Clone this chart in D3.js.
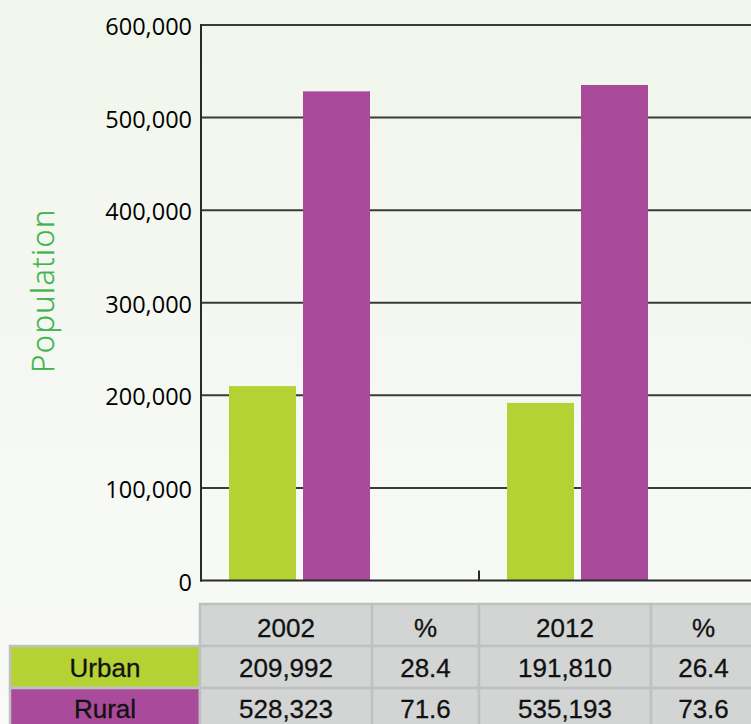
<!DOCTYPE html>
<html>
<head>
<meta charset="utf-8">
<script src="https://cdn.jsdelivr.net/npm/d3@7"></script>
<style>
html,body{margin:0;padding:0;background:#f6f8f3;}
svg{display:block;}
</style>
</head>
<body>
<svg id="chart" width="751" height="724"></svg>
<script>
const years = ["2002", "2012"];
const seriesNames = ["Urban", "Rural"];
const urbanValues = [209992, 191810];
const ruralValues = [528323, 535193];
const urbanPct = [28.4, 26.4];
const ruralPct = [71.6, 73.6];
const yTicks = [0, 100000, 200000, 300000, 400000, 500000, 600000];
const tableHeader = ["2002", "%", "2012", "%"];
const colors = {Urban: "#b4d234", Rural: "#a94a9a"};

const svg = d3.select("#chart");
const W = 751, H = 724;

const defs = svg.append("defs");
const grad = defs.append("linearGradient").attr("id","bg").attr("x1",0).attr("y1",0).attr("x2",0).attr("y2",1);
grad.append("stop").attr("offset","0%").attr("stop-color","#f1f6ec");
grad.append("stop").attr("offset","100%").attr("stop-color","#f9faf8");
svg.append("rect").attr("width",W).attr("height",H).attr("fill","url(#bg)");

const y = d3.scaleLinear().domain([0, 600000]).range([580.5, 25]);
const x0 = d3.scaleBand().domain(years).range([201, 757]).paddingInner(0).paddingOuter(0);
const x1 = d3.scaleBand().domain(seriesNames).range([28, 169]).paddingInner(0.0946);

const fmt = d3.format(",");

svg.append("g").selectAll("line").data(yTicks.filter(d=>d>0)).join("line")
  .attr("x1",201).attr("x2",W).attr("y1",d=>y(d)).attr("y2",d=>y(d))
  .attr("stroke","#3a3a3a").attr("stroke-width",2);

svg.append("g").selectAll("text").data(yTicks).join("text")
  .attr("x",192).attr("y",d=>y(d)+10)
  .attr("text-anchor","end")
  .attr("font-family","'Open Sans', sans-serif")
  .attr("font-size",23.5)
  .attr("fill","#000")
  .text(d=>fmt(d));

const data = years.map((yr,i)=>({year:yr, values:[{k:"Urban",v:urbanValues[i]},{k:"Rural",v:ruralValues[i]}]}));
const groups = svg.append("g").selectAll("g").data(data).join("g")
  .attr("transform",d=>`translate(${x0(d.year)},0)`);
groups.selectAll("rect").data(d=>d.values).join("rect")
  .attr("x",d=>x1(d.k)).attr("width",x1.bandwidth())
  .attr("y",d=>y(d.v)).attr("height",d=>y(0)-y(d.v))
  .attr("fill",d=>colors[d.k]);

svg.append("line").attr("x1",201).attr("x2",201).attr("y1",y(600000)-1).attr("y2",y(0)+1)
  .attr("stroke","#2a2a2a").attr("stroke-width",2);
svg.append("line").attr("x1",200).attr("x2",W).attr("y1",y(0)).attr("y2",y(0))
  .attr("stroke","#2a2a2a").attr("stroke-width",2);
svg.append("g").selectAll("line").data(years.slice(1)).join("line")
  .attr("x1",d=>x0(d)).attr("x2",d=>x0(d)).attr("y1",y(0)-10).attr("y2",y(0))
  .attr("stroke","#2a2a2a").attr("stroke-width",2);

svg.append("text")
  .attr("transform","translate(54,290.5) rotate(-90)")
  .attr("text-anchor","middle")
  .attr("font-family","'Open Sans', sans-serif")
  .attr("font-weight",300)
  .attr("font-size",31)
  .attr("letter-spacing",1.4)
  .attr("fill","#3cb44a")
  .attr("stroke","#3cb44a").attr("stroke-width",0.35)
  .text("Population");

const colEdges = [200, 372, 479, 651, 758];
const rowEdges = [604, 646, 688, 730];
const cellFill = "#d3d5d5", border = "#bfc1c1";
const tfont = "'Liberation Sans', Arial, sans-serif";
const tg = svg.append("g");
const rows = [
  {label:null, cells: tableHeader},
  {label:"Urban", cells:[fmt(urbanValues[0]), urbanPct[0].toFixed(1), fmt(urbanValues[1]), urbanPct[1].toFixed(1)]},
  {label:"Rural", cells:[fmt(ruralValues[0]), ruralPct[0].toFixed(1), fmt(ruralValues[1]), ruralPct[1].toFixed(1)]}
];
rows.forEach((r,ri)=>{
  const top = rowEdges[ri], bot = rowEdges[ri+1];
  const base = top + 32.5 - ri * 1.5;
  if (r.label) {
    tg.append("rect").attr("x",10).attr("y",top).attr("width",200-10).attr("height",bot-top)
      .attr("fill",colors[r.label]).attr("stroke",border).attr("stroke-width",2.5);
    tg.append("text").attr("x",105).attr("y",base).attr("text-anchor","middle")
      .attr("font-family",tfont).attr("font-size",26).attr("fill","#111")
      .attr("stroke","#111").attr("stroke-width",0.3).text(r.label);
  }
  r.cells.forEach((c,ci)=>{
    const l = colEdges[ci], rr = colEdges[ci+1];
    tg.append("rect").attr("x",l).attr("y",top).attr("width",rr-l).attr("height",bot-top)
      .attr("fill",cellFill).attr("stroke",border).attr("stroke-width",2.5);
    tg.append("text").attr("x",(l+rr)/2 - (ci===3?1:0)).attr("y",base).attr("text-anchor","middle")
      .attr("font-family",tfont).attr("font-size",26).attr("fill","#111")
      .attr("stroke","#111").attr("stroke-width",0.3).text(c);
  });
});
</script>
</body>
</html>
